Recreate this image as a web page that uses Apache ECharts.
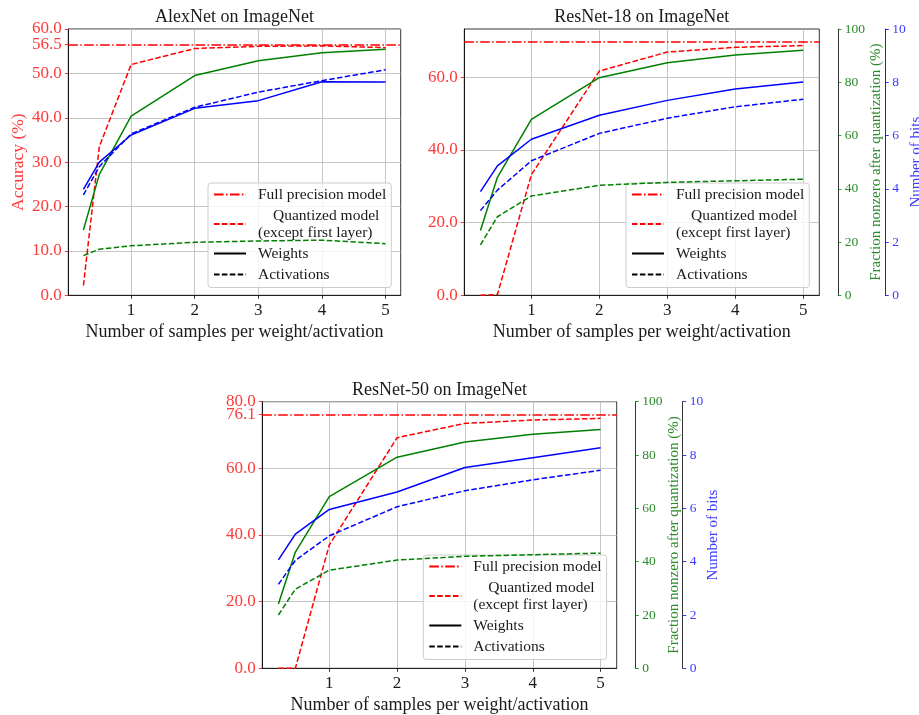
<!DOCTYPE html>
<html>
<head>
<meta charset="utf-8">
<script src="https://cdn.jsdelivr.net/npm/echarts@6/dist/echarts.min.js"></script>
<style>
  html, body { margin: 0; padding: 0; background: #fff; }
  #chart { width: 919px; height: 715px; }
</style>
</head>
<body>
<div id="chart"></div>
<script>
// Samples per weight/activation (shared x values)
const samples = [0.25, 0.5, 1, 2, 3, 4, 5];
const sampleTicks = [1, 2, 3, 4, 5];

// AlexNet on ImageNet
const alexFull = 56.5;
const alexQuant = [2.2, 33.5, 52.0, 55.6, 56.1, 56.2, 55.8];
const alexNzWeights = [24.5, 45.4, 67.3, 82.5, 88.1, 91.1, 92.4];
const alexNzActs = [14.9, 17.3, 18.6, 19.9, 20.4, 20.7, 19.4];
const alexBitsWeights = [3.98, 5.0, 6.02, 7.02, 7.31, 8.02, 8.01];
const alexBitsActs = [3.77, 4.83, 6.06, 7.06, 7.63, 8.06, 8.47];
const alexAccTicks = [0, 10, 20, 30, 40, 50, 56.5, 60];

// ResNet-18 on ImageNet
const r18Full = 69.76;
const r18Quant = [0.0, 0.2, 33.2, 61.7, 66.9, 68.2, 68.7];
const r18NzWeights = [24.3, 44.3, 66.1, 81.7, 87.3, 90.2, 92.0];
const r18NzActs = [18.9, 29.5, 37.3, 41.3, 42.4, 43.0, 43.6];
const r18BitsWeights = [3.89, 4.86, 5.86, 6.76, 7.32, 7.75, 8.01];
const r18BitsActs = [3.18, 3.95, 5.05, 6.08, 6.65, 7.08, 7.36];
const r18AccTicks = [0, 20, 40, 60];

// ResNet-50 on ImageNet
const r50Full = 76.1;
const r50Quant = [0.0, 0.0, 37.0, 69.2, 73.5, 74.5, 75.0];
const r50NzWeights = [24.1, 43.6, 64.4, 79.2, 84.9, 87.8, 89.6];
const r50NzActs = [20.0, 29.7, 36.8, 40.6, 42.0, 42.6, 43.2];
const r50BitsWeights = [4.07, 5.03, 5.96, 6.61, 7.53, 7.90, 8.27];
const r50BitsActs = [3.15, 4.05, 4.97, 6.06, 6.66, 7.07, 7.43];
const r50AccTicks = [0, 20, 40, 60, 76.1, 80];

const nzTicks = [0, 20, 40, 60, 80, 100];
const bitTicks = [0, 2, 4, 6, 8, 10];

const FONT = "'Liberation Serif', 'Times New Roman', serif";
const RED = '#ff0000', GREEN = '#008000', BLUE = '#0000ff';
const RED_TXT = '#ff3a3a', GREEN_TXT = '#2b8a2b', BLUE_TXT = '#3a3aff', INK = '#1a1a1a';
const DASH = [5.5, 2.4];
const DASHDOT = [9.6, 2.4, 1.5, 2.4];
const GRID_LINE = { color: '#b8b8b8', width: 0.8 };

const panels = [
  {
    title: 'AlexNet on ImageNet',
    grid: { left: 68.3, top: 29, width: 332.4, height: 266.3 },
    accMax: 60, accTicks: alexAccTicks, full: alexFull, quant: alexQuant,
    nzW: alexNzWeights, nzA: alexNzActs, bitsW: alexBitsWeights, bitsA: alexBitsActs,
    rightAxes: false, accName: 'Accuracy (%)',
    legend: { left: 208, top: 183 }
  },
  {
    title: 'ResNet-18 on ImageNet',
    grid: { left: 464.3, top: 29, width: 355, height: 266.3 },
    accMax: 73.25, accTicks: r18AccTicks, full: r18Full, quant: r18Quant,
    nzW: r18NzWeights, nzA: r18NzActs, bitsW: r18BitsWeights, bitsA: r18BitsActs,
    rightAxes: true, accName: '',
    legend: { left: 626, top: 183 }
  },
  {
    title: 'ResNet-50 on ImageNet',
    grid: { left: 262.3, top: 401.7, width: 354.4, height: 266.6 },
    accMax: 80, accTicks: r50AccTicks, full: r50Full, quant: r50Quant,
    nzW: r50NzWeights, nzA: r50NzActs, bitsW: r50BitsWeights, bitsA: r50BitsActs,
    rightAxes: true, accName: '',
    legend: { left: 423.3, top: 555 }
  }
];

const pairs = ys => samples.map((x, k) => [x, ys[k]]);
const accLabel = v => Number(v).toFixed(1);

const grids = [], xAxes = [], yAxes = [], series = [], legends = [], graphics = [];

panels.forEach((p, i) => {
  grids.push(Object.assign({
    show: true, borderColor: '#000', borderWidth: 0.8,
    backgroundColor: 'transparent', containLabel: false, outerBoundsMode: 'none'
  }, p.grid));

  xAxes.push({
    type: 'value', gridIndex: i, min: 0.0125, max: 5.2375,
    axisLine: { show: true, onZero: false, lineStyle: { color: '#000', width: 0.8 } },
    axisTick: { show: true, customValues: sampleTicks, length: 3.5, lineStyle: { color: '#000', width: 0.8 } },
    axisLabel: { customValues: sampleTicks, margin: 7, color: INK, fontFamily: FONT, fontSize: 17,
                 formatter: v => String(v) },
    splitLine: { show: true, lineStyle: GRID_LINE },
    name: 'Number of samples per weight/activation', nameLocation: 'middle', nameGap: 28,
    nameMoveOverlap: false,
    nameTextStyle: { fontFamily: FONT, fontSize: 18, color: INK }
  });

  // regular accuracy ticks, plus the full-precision value on its own overlay axis
  const mainTicks = p.accTicks.filter(v => v !== p.full);
  const fullTicks = p.accTicks.filter(v => v === p.full);

  yAxes.push({
    type: 'value', gridIndex: i, position: 'left', min: 0, max: p.accMax,
    axisLine: { show: true, onZero: false, lineStyle: { color: '#000', width: 0.8 } },
    axisTick: { show: true, customValues: mainTicks, length: 3.5, lineStyle: { color: RED, width: 0.8 } },
    axisLabel: { customValues: mainTicks, margin: 6.5, color: RED_TXT, fontFamily: FONT, fontSize: 17,
                 hideOverlap: false, showMaxLabel: true, showMinLabel: true, formatter: accLabel },
    splitLine: { show: true, lineStyle: GRID_LINE },
    name: p.accName, nameLocation: 'middle', nameRotate: 90, nameGap: 41, nameMoveOverlap: false,
    nameTextStyle: { fontFamily: FONT, fontSize: 17.5, color: RED_TXT }
  });

  // fraction nonzero axis
  yAxes.push({
    type: 'value', gridIndex: i, position: 'right', offset: 18.5, min: 0, max: 100, show: p.rightAxes,
    axisLine: { show: true, onZero: false, lineStyle: { color: '#000', width: 0.8 } },
    axisTick: { show: true, customValues: nzTicks, length: 3.5, lineStyle: { color: GREEN, width: 0.8 } },
    axisLabel: { customValues: nzTicks, margin: 7, color: GREEN_TXT, fontFamily: FONT, fontSize: 13.5,
                 hideOverlap: false, showMaxLabel: true },
    splitLine: { show: false },
    name: 'Fraction nonzero after quantization (%)', nameLocation: 'middle', nameRotate: 90,
    nameGap: 31, nameMoveOverlap: false,
    nameTextStyle: { fontFamily: FONT, fontSize: 15, color: GREEN_TXT }
  });

  // number of bits axis
  yAxes.push({
    type: 'value', gridIndex: i, position: 'right', offset: 66, min: 0, max: 10, show: p.rightAxes,
    axisLine: { show: true, onZero: false, lineStyle: { color: '#000', width: 0.8 } },
    axisTick: { show: true, customValues: bitTicks, length: 3.5, lineStyle: { color: BLUE, width: 0.8 } },
    axisLabel: { customValues: bitTicks, margin: 7, color: BLUE_TXT, fontFamily: FONT, fontSize: 13.5,
                 hideOverlap: false, showMaxLabel: true },
    splitLine: { show: false },
    name: 'Number of bits', nameLocation: 'middle', nameRotate: 90,
    nameGap: 23, nameMoveOverlap: false,
    nameTextStyle: { fontFamily: FONT, fontSize: 15, color: BLUE_TXT }
  });

  // full-precision accuracy tick (same scale as the accuracy axis)
  yAxes.push({
    type: 'value', gridIndex: i, position: 'left', offset: 0, min: 0, max: p.accMax,
    show: fullTicks.length > 0,
    axisLine: { show: false },
    axisTick: { show: true, customValues: fullTicks, length: 3.5, lineStyle: { color: RED, width: 0.8 } },
    axisLabel: { customValues: fullTicks, margin: 6.5, color: RED_TXT, fontFamily: FONT, fontSize: 17,
                 hideOverlap: false, showMaxLabel: true, showMinLabel: true, formatter: accLabel },
    splitLine: { show: false }
  });

  const acc = 4 * i, nz = 4 * i + 1, bits = 4 * i + 2;
  const lineBase = { type: 'line', xAxisIndex: i, symbol: 'none', showSymbol: false, silent: true };

  series.push(Object.assign({}, lineBase, {
    name: 'Quantized model', yAxisIndex: acc, z: 2, data: pairs(p.quant),
    lineStyle: { color: RED, width: 1.5, type: DASH }, itemStyle: { color: RED },
    markLine: {
      silent: true, symbol: 'none', label: { show: false }, animation: false,
      lineStyle: { color: RED, width: 1.5, type: DASHDOT },
      data: [{ yAxis: p.full }]
    }
  }));
  series.push(Object.assign({}, lineBase, {
    name: 'nonzero-weights-' + i, yAxisIndex: nz, z: 6, data: pairs(p.nzW),
    lineStyle: { color: GREEN, width: 1.5 }, itemStyle: { color: GREEN }
  }));
  series.push(Object.assign({}, lineBase, {
    name: 'nonzero-acts-' + i, yAxisIndex: nz, z: 6, data: pairs(p.nzA),
    lineStyle: { color: GREEN, width: 1.5, type: DASH }, itemStyle: { color: GREEN }
  }));
  series.push(Object.assign({}, lineBase, {
    name: 'bits-weights-' + i, yAxisIndex: bits, z: 6, data: pairs(p.bitsW),
    lineStyle: { color: BLUE, width: 1.5 }, itemStyle: { color: BLUE }
  }));
  series.push(Object.assign({}, lineBase, {
    name: 'bits-acts-' + i, yAxisIndex: bits, z: 6, data: pairs(p.bitsA),
    lineStyle: { color: BLUE, width: 1.5, type: DASH }, itemStyle: { color: BLUE }
  }));

  legends.push({
    left: p.legend.left, top: p.legend.top, orient: 'vertical',
    padding: [3, 5, 4.5, 5], itemGap: 4, itemWidth: 32, itemHeight: 12,
    backgroundColor: 'rgba(255,255,255,0.8)', borderColor: '#cccccc', borderWidth: 1, borderRadius: 3,
    selectedMode: false, z: 4,
    itemStyle: { color: 'rgba(0,0,0,0)', borderWidth: 0, opacity: 0 },
    data: ['Full precision model', 'Quantized model', 'Weights', 'Activations'],
    textStyle: {
      fontFamily: FONT, fontSize: 15.5, lineHeight: 17, color: INK, padding: [0, 0, 0, 7],
      rich: { ind: { fontFamily: FONT, fontSize: 15.5, lineHeight: 17, color: INK, padding: [0, 0, 0, 15] } }
    },
    formatter: name => name === 'Quantized model' ? '{ind|Quantized model}\n(except first layer)' : name
  });

  graphics.push({
    type: 'text', x: p.grid.left + p.grid.width / 2, y: p.grid.top - 11.5, silent: true,
    style: { text: p.title, align: 'center', verticalAlign: 'middle', fill: INK,
             font: "18px 'Liberation Serif', 'Times New Roman', serif" }
  });
});

// legend-only entries
series.push({ name: 'Full precision model', type: 'line', xAxisIndex: 0, yAxisIndex: 0, data: [],
  symbol: 'none', lineStyle: { color: RED, width: 1.5, type: DASHDOT }, itemStyle: { color: RED } });
series.push({ name: 'Weights', type: 'line', xAxisIndex: 0, yAxisIndex: 0, data: [],
  symbol: 'none', lineStyle: { color: '#000', width: 1.5 }, itemStyle: { color: '#000' } });
series.push({ name: 'Activations', type: 'line', xAxisIndex: 0, yAxisIndex: 0, data: [],
  symbol: 'none', lineStyle: { color: '#000', width: 1.5, type: DASH }, itemStyle: { color: '#000' } });

const chart = echarts.init(document.getElementById('chart'), null, { renderer: 'canvas' });
chart.setOption({
  animation: false,
  backgroundColor: '#ffffff',
  grid: grids,
  xAxis: xAxes,
  yAxis: yAxes,
  legend: legends,
  series: series,
  graphic: graphics
});
</script>
</body>
</html>
